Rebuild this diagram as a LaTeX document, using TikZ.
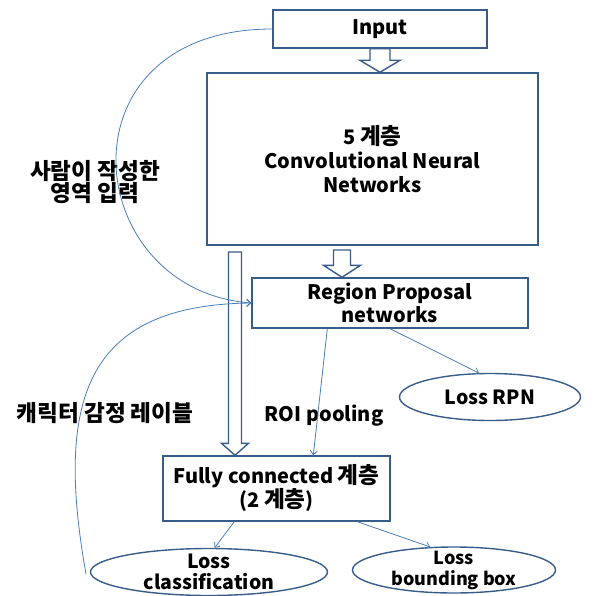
\documentclass[tikz,border=0pt]{standalone}
\usepackage{fontspec}
\setmainfont{Noto Sans CJK KR}
\newfontfamily\kr{Noto Sans CJK KR}[Scale=1.13]
\usetikzlibrary{shapes.geometric}
\usetikzlibrary{arrows.meta}
\usetikzlibrary{calc}

\definecolor{boxline}{RGB}{56,93,138}
\definecolor{thinline}{RGB}{74,126,187}

% hollow block arrow: start, end, half shaft, half head
\newcommand{\bigarrow}[4]{%
  \draw[bigarrowline] let \p1=#1, \p2=#2 in
    (\x1-#3,\y1) -- (\x1-#3,\y2+12) -- (\x1-#4,\y2+12) -- (\x1,\y2)
    -- (\x1+#4,\y2+12) -- (\x1+#3,\y2+12) -- (\x1+#3,\y1) -- cycle;}

\begin{document}
\begin{tikzpicture}[x=1pt, y=-1pt,
                    font=\bfseries\fontsize{20}{24}\selectfont,
                    >={Straight Barb[length=4pt,width=7pt]},
                    boxnode/.style={rectangle, draw=boxline, line width=1.4pt, align=center, inner sep=0pt},
                    lossnode/.style={ellipse, draw=boxline, line width=1.4pt, inner sep=0pt},
                    losstext/.style={align=center, font=\bfseries\fontsize{19.5}{21}\selectfont},
                    bigarrowline/.style={draw=boxline, line width=1.4pt, fill=white},
                    thinarrow/.style={->, draw=thinline, line width=0.8pt},
                   ]
    \useasboundingbox (0,0) rectangle (592,596);

    %Nodes
    \node[boxnode, minimum width=214, minimum height=38]   (inp)  at (380,29)      {Input};
    \node[boxnode, minimum width=331, minimum height=172]  (cnn)  at (372.5,159)   {5 {\kr 계층}\\Convolutional Neural\\Networks};
    \node[boxnode, minimum width=276, minimum height=50]   (rpn)  at (390,303)     {Region Proposal\\[-1pt]networks};
    \node[boxnode, minimum width=227, minimum height=65]   (fc)   at (276.5,488.5) {Fully connected {\kr 계층}\\(2 {\kr 계층})};

    \node[lossnode, minimum width=181, minimum height=47]  (lrpn) at (490,397)     {};
    \node[lossnode, minimum width=237, minimum height=47]  (lcls) at (209,572)     {};
    \node[lossnode, minimum width=203, minimum height=46]  (lbb)  at (454,570)     {};
    \node[losstext]                          (lrpntext) at (lrpn.center) {Loss RPN};
    \node[losstext]                          (lclstext) at (lcls.center) {Loss\\classification};
    \node[losstext, font=\bfseries\fontsize{18}{21}\selectfont] (lbbtext) at (lbb.center) {Loss\\bounding box};

    \node[align=center, font=\bfseries\kr\fontsize{20}{21}\selectfont]  (roilabel) at (95,182)  {사람이 작성한\\영역 입력};
    \node[font=\bfseries\kr\fontsize{20}{24}\selectfont]                (emolabel) at (105,413) {캐릭터 감정 레이블};
    \node                (poollabel)  at (324,416) {ROI pooling};

    \coordinate (a2s)  at (342,250);
    \coordinate (a3s)  at (235,252);
    \coordinate (emostart) at (86,574);

    %Block arrows
    \bigarrow{(inp.south)}{(cnn.north)}{10}{20}
    \bigarrow{(a2s)}{(a2s |- rpn.north)}{8.5}{18.5}
    \bigarrow{(a3s)}{(a3s |- fc.north)}{6.5}{13.5}

    %Lines
    \draw[thinarrow] ($(rpn.south west)+(76,0)$) -- ($(fc.north west)+(151,0)$);
    \draw[thinarrow] (rpn.south) -- (lrpn.115);
    \draw[thinarrow] ($(fc.south west)+(72,0)$) -- (lcls.77);
    \draw[thinarrow] ($(fc.south west)+(195,0)$) -- (lbb.136);
    \draw[thinarrow] (inp.west) .. controls (55,29) and (80,290) .. (rpn.west);
    \draw[thinarrow] (emostart) .. controls (55,400) and (85,305) .. (rpn.west);
\end{tikzpicture}
\end{document}
